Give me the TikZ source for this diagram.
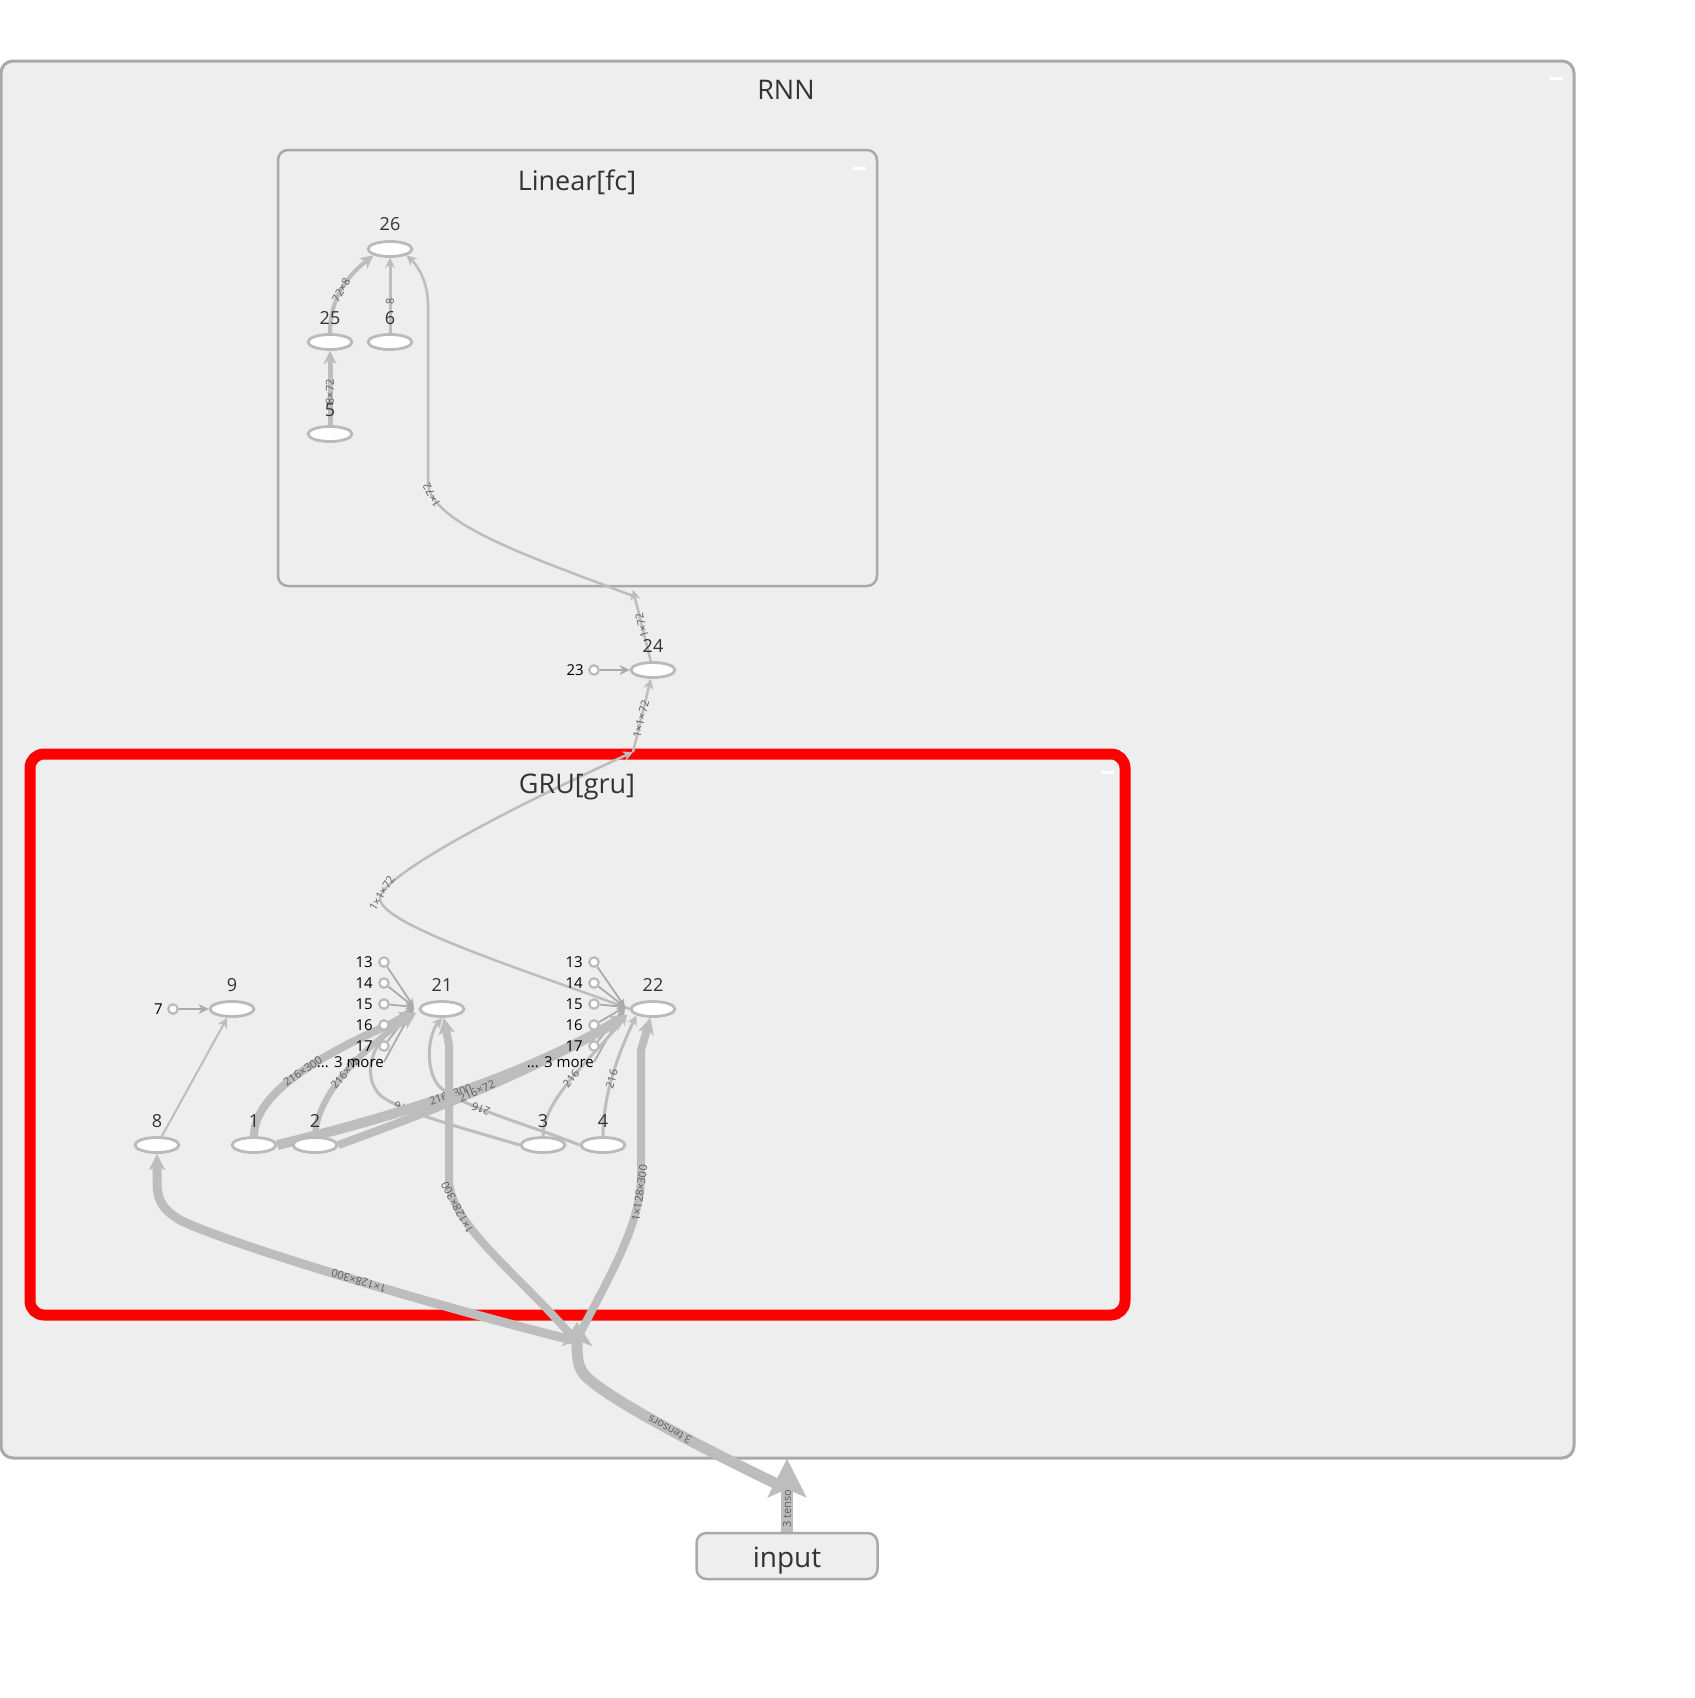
\documentclass[tikz,border=0pt]{standalone}
\usepackage{fontspec}
\setmainfont{Open Sans}
\usetikzlibrary{arrows.meta,shapes.geometric}
\definecolor{boxfill}{HTML}{EEEEEE}
\definecolor{boxline}{HTML}{A9A9A9}
\definecolor{edgegray}{HTML}{BDBDBD}
\definecolor{thingray}{HTML}{ABABAB}
\definecolor{nodeline}{HTML}{BABABA}
\definecolor{labgray}{HTML}{333333}
\definecolor{elabgray}{HTML}{5E5E5E}
\definecolor{gred}{HTML}{FF0000}
\pgfdeclarelayer{bg}
\pgfdeclarelayer{edgelayer}
\pgfsetlayers{bg,edgelayer,main}
\begin{document}
\begin{tikzpicture}[x=1pt,y=-1pt,
  op/.style={ellipse, draw=nodeline, line width=2.8pt, fill=white, minimum width=44pt, minimum height=15pt, inner sep=0pt},
  cst/.style={circle, draw=nodeline, line width=2.2pt, fill=white, minimum size=9.5pt, inner sep=0pt},
  nlab/.style={font=\fontsize{18}{18}\selectfont, text=labgray, inner sep=0pt},
  clab/.style={font=\fontsize{15}{15}\selectfont, text=black, anchor=east, inner sep=0pt},
  elab/.style={font=\fontsize{11}{11}\selectfont, text=elabgray, sloped, allow upside down, inner sep=0.5pt},
  conn/.style={draw=edgegray, line width=#1},
  thinconn/.style={draw=thingray, line width=1.8pt},
  title/.style={font=\fontsize{27}{27}\selectfont, text=labgray},
  minbtn/.style={draw=white, line width=3pt},
  arrT/.style={-{Stealth[length=8pt,width=7pt,inset=2pt]}},
  arrS/.style={-{Stealth[length=10pt,width=10pt,inset=3pt]}},
  arrM/.style={-{Stealth[length=13pt,width=13pt,inset=3.5pt]}},
  arrL/.style={-{Stealth[length=16pt,width=16pt,inset=4pt]}},
]
\useasboundingbox (0,0) rectangle (1695,1698);
\begin{pgfonlayer}{bg}
\fill[white] (0,0) rectangle (1695,1698);
\draw[fill=boxfill, draw=boxline, line width=3pt, rounded corners=12pt] (1,61) rectangle (1574,1458);
\draw[fill=boxfill, draw=boxline, line width=2.5pt, rounded corners=10pt] (278,150) rectangle (877,586);
\draw[fill=boxfill, draw=gred, line width=11pt, rounded corners=14pt] (30,754) rectangle (1125,1315);
\end{pgfonlayer}

% titles
\node[title] (tRNN) at (786,90) {RNN};
\node[title] (tfc) at (577,182) {Linear[fc]};
\node[title] (tgru) at (577,787) {GRU[gru]};
\draw[minbtn] (1550,78) -- (1563,78);
\draw[minbtn] (853,168) -- (866,168);
\draw[minbtn] (1101,772) -- (1114,772);

% Linear nodes
\node[op] (n26) at (390,249) {};
\node[nlab] (l26) at (390,224) {26};
\node[op] (n25) at (330,342) {};
\node[nlab] (l25) at (330,318) {25};
\node[op] (n6) at (390,342) {};
\node[nlab] (l6) at (390,318) {6};
\node[op] (n5) at (330,434) {};
\node[nlab] (l5) at (330,410) {5};

% 24 and 23
\node[op] (n24) at (653,670) {};
\node[nlab] (l24) at (653,646) {24};
\node[cst] (n23) at (594,670) {};
\node[clab] (l23) at (584,670) {23};

% GRU nodes
\node[cst] (n7) at (173,1009) {};
\node[clab] (l7) at (163,1009) {7};
\node[op] (n9) at (232,1009) {};
\node[nlab] (l9) at (232,985) {9};
\node[op] (n8) at (157,1145) {};
\node[nlab] (l8) at (157,1121) {8};
\node[op] (n1) at (254,1145) {};
\node[nlab] (l1) at (254,1121) {1};
\node[op] (n2) at (315,1145) {};
\node[nlab] (l2) at (315,1121) {2};
\node[op] (n3) at (543,1145) {};
\node[nlab] (l3) at (543,1121) {3};
\node[op] (n4) at (603,1145) {};
\node[nlab] (l4) at (603,1121) {4};
\node[op] (n21) at (442,1009) {};
\node[nlab] (l21) at (442,985) {21};
\node[op] (n22) at (653,1009) {};
\node[nlab] (l22) at (653,985) {22};

\foreach \k/\y in {13/962,14/983,15/1004,16/1025,17/1046}{
  \node[cst] (a\k) at (384,\y) {};
  \node[clab] (la\k) at (373,\y) {\k};
  \node[cst] (b\k) at (594,\y) {};
  \node[clab] (lb\k) at (583,\y) {\k};
}
\node[clab] (m21) at (384,1062) {... 3 more};
\node[clab] (m22) at (594,1062) {... 3 more};

% input
\node[draw=boxline, fill=boxfill, line width=2.5pt, rounded corners=10pt, minimum width=181pt, minimum height=46pt, text height=24pt, text depth=2pt, font=\fontsize{28}{28}\selectfont, text=labgray] (input) at (787,1556) {input};

\coordinate (fcin) at (633,590);
\coordinate (fcin2) at (633,596);
\coordinate (gruout) at (633,752);
\coordinate (c21) at (414,1007);
\coordinate (c22) at (625,1007);
\coordinate (c21b) at (416,1013);
\coordinate (c22b) at (627,1015);
\coordinate (split) at (576,1341);
\coordinate (rnnin) at (783,1487);
\coordinate (rnnbot) at (787,1459);

\begin{pgfonlayer}{edgelayer}
% Linear[fc]
\draw[conn=5pt, arrM] (n5) -- (n25) node[elab,pos=0.45]{8×72};
\draw[conn=3pt, arrS] (n6) -- (n26) node[elab,pos=0.42]{8};
\draw[conn=4pt, arrM] (n25.north) .. controls (330,300) and (345,278) .. (n26.south west) node[elab,pos=0.5]{72×8};
\draw[conn=2.5pt, arrS] (n24) -- (fcin) node[elab,pos=0.5]{1×72};
\draw[conn=2.5pt, arrS] (fcin2) .. controls (540,560) and (430,525) .. (428,483) node[elab,pos=0.9]{1×72} -- (428,305) .. controls (428,282) and (418,266) .. (n26.south east);
\draw[thinconn, arrS] (n23) -- (n24);
% GRU out
\draw[conn=2.5pt, arrS] (gruout) -- (n24) node[elab,pos=0.45]{1×1×72};
\draw[conn=2.5pt, arrS] (n22.west) .. controls (540,975) and (378,925) .. (380,898) .. controls (382,878) and (480,822) .. (gruout) node[elab,pos=0.07]{1×1×72};
% GRU internal
\draw[thinconn, arrS] (n7) -- (n9);
\draw[conn=2pt, arrS] (n8) -- (n9);
\foreach \k in {13,...,17}{
  \draw[thinconn, arrT] (a\k) -- (c21);
  \draw[thinconn, arrT] (b\k) -- (c22);
}
\draw[thinconn, arrT] (m21.east) -- (c21);
\draw[thinconn, arrT] (m22.east) -- (c22);
\draw[conn=3pt, arrS] (n3.west) .. controls (470,1130) and (400,1112) .. (380,1095) node[elab,pos=0.75]{216} .. controls (360,1075) and (372,1035) .. (c21b);
\draw[conn=3pt, arrS] (n4.west) .. controls (530,1125) and (455,1105) .. (438,1085) node[elab,pos=0.6]{216} .. controls (425,1068) and (428,1035) .. (n21.south);
\draw[conn=3pt, arrS] (n3.north) .. controls (543,1100) and (590,1060) .. (c22b) node[elab,pos=0.5]{216};
\draw[conn=3pt, arrS] (n4.north) .. controls (603,1100) and (615,1060) .. (n22.south west) node[elab,pos=0.5]{216};
\draw[conn=8pt, arrL] (n1.north) .. controls (254,1090) and (330,1050) .. (c21b) node[elab,pos=0.5]{216×300};
\draw[conn=6pt, arrL] (n2.north) .. controls (317,1095) and (360,1050) .. (c21b) node[elab,pos=0.5]{216×72};
\draw[conn=10pt, arrL] (n1.east) .. controls (380,1120) and (520,1080) .. (c22b) node[elab,pos=0.5]{216×300};
\draw[conn=8pt, arrL] (n2.east) .. controls (420,1115) and (530,1075) .. (c22b) node[elab,pos=0.5]{216×72};
% input edges
\draw[conn=9pt, arrL] (split) .. controls (450,1310) and (230,1245) .. (180,1220) node[elab,pos=0.48]{1×128×300} .. controls (160,1208) and (157,1198) .. (157,1180) -- (n8.south);
\draw[conn=8pt, arrL] (split) .. controls (520,1275) and (450,1225) .. (449,1180) node[elab,pos=0.8]{1×128×300} -- (449,1045) -- (n21);
\draw[conn=8pt, arrL] (split) .. controls (610,1275) and (641,1225) .. (641,1175) node[elab,pos=0.88]{1×128×300} -- (641,1050) -- (n22);
\draw[conn=11pt, -{Stealth[length=24pt,width=30pt,inset=6pt]}] (rnnin) .. controls (700,1447) and (600,1395) .. (583,1373) node[elab,pos=0.45]{3 tensors} .. controls (577,1364) and (577,1355) .. (577,1322);
\draw[conn=12pt, -{Stealth[length=38pt,width=38pt,inset=8pt]}] (input.north) -- (rnnbot) node[elab,pos=0.38]{3 tensors};
\fill[edgegray] (787,1459) -- (806,1497) -- (787,1489) -- (768,1497) -- cycle;
\end{pgfonlayer}
\end{tikzpicture}
\end{document}
